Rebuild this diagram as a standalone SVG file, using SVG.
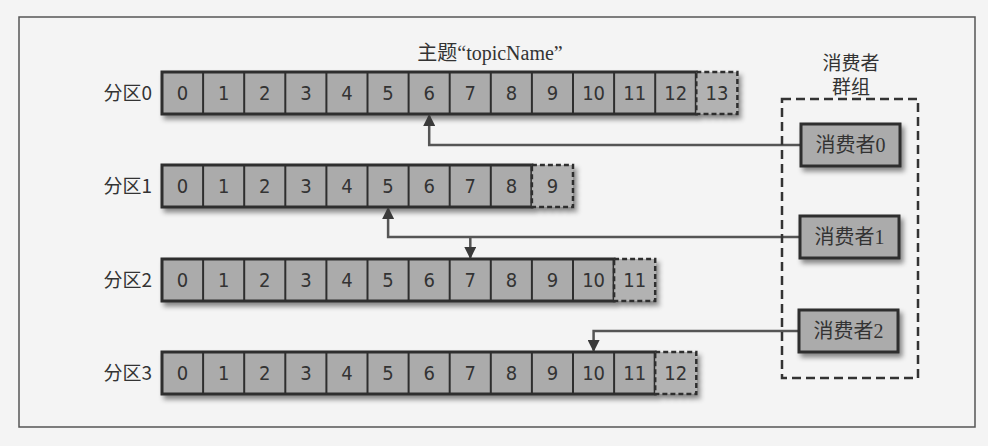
<svg xmlns="http://www.w3.org/2000/svg" width="988" height="446" viewBox="0 0 988 446">
<defs>
<filter id="sh" x="-5%" y="-30%" width="115%" height="180%">
<feDropShadow dx="3" dy="4" stdDeviation="2.5" flood-color="#000" flood-opacity="0.45"/>
</filter>
<marker id="ah" viewBox="0 0 12 12" refX="11" refY="6" markerWidth="12" markerHeight="12" markerUnits="userSpaceOnUse" orient="auto">
<path d="M0,0 L12,6 L0,12 Z" fill="#3a3a3a"/>
</marker>
</defs>
<style>
.bg{fill:#f4f4f4}
.frame{fill:none;stroke:#555;stroke-width:1.5}
.row{fill:#ababab;stroke:#2e2e2e;stroke-width:3}
.div{stroke:#2e2e2e;stroke-width:2}
.last{fill:#b2b2b2;stroke:#2e2e2e;stroke-width:2.5;stroke-dasharray:5 3}
.num{font-family:"Liberation Sans Narrow","DejaVu Sans Condensed","Liberation Sans",sans-serif;font-size:20px;fill:#333;text-anchor:middle}
.plabel{font-family:"Noto Sans CJK SC",sans-serif;font-size:19px;fill:#333;text-anchor:end}
.serif{font-family:"Liberation Serif","Noto Sans CJK SC",serif;fill:#333;text-anchor:middle}
.cbox{fill:#ababab;stroke:#2e2e2e;stroke-width:3}
.group{fill:none;stroke:#333;stroke-width:2.5;stroke-dasharray:9 5}
.conn{fill:none;stroke:#555;stroke-width:2.5}
</style>
<rect class="bg" x="0" y="0" width="988" height="446"/>
<rect class="frame" x="19" y="17" width="956" height="410"/>

<text class="serif" x="490" y="60" font-size="20">主题“topicName”</text>

<g id="partition0">
<text class="plabel" x="152" y="100">分区0</text>
<g filter="url(#sh)">
<rect class="row" x="162" y="72" width="534.3" height="42"/>
<rect class="last" x="696.3" y="72" width="41.1" height="42"/>
</g>
<g class="div">
<line x1="203.1" y1="72" x2="203.1" y2="114"/><line x1="244.2" y1="72" x2="244.2" y2="114"/><line x1="285.3" y1="72" x2="285.3" y2="114"/><line x1="326.4" y1="72" x2="326.4" y2="114"/><line x1="367.5" y1="72" x2="367.5" y2="114"/><line x1="408.6" y1="72" x2="408.6" y2="114"/><line x1="449.7" y1="72" x2="449.7" y2="114"/><line x1="490.8" y1="72" x2="490.8" y2="114"/><line x1="531.9" y1="72" x2="531.9" y2="114"/><line x1="573" y1="72" x2="573" y2="114"/><line x1="614.1" y1="72" x2="614.1" y2="114"/><line x1="655.2" y1="72" x2="655.2" y2="114"/>
</g>
<g class="num">
<text x="182.6" y="100">0</text><text x="223.7" y="100">1</text><text x="264.8" y="100">2</text><text x="305.9" y="100">3</text><text x="347" y="100">4</text><text x="388.1" y="100">5</text><text x="429.2" y="100">6</text><text x="470.3" y="100">7</text><text x="511.4" y="100">8</text><text x="552.5" y="100">9</text><text x="593.6" y="100">10</text><text x="634.7" y="100">11</text><text x="675.8" y="100">12</text><text x="716.9" y="100">13</text>
</g>
</g>

<g id="partition1">
<text class="plabel" x="152" y="193">分区1</text>
<g filter="url(#sh)">
<rect class="row" x="162" y="165" width="369.9" height="42"/>
<rect class="last" x="531.9" y="165" width="41.1" height="42"/>
</g>
<g class="div">
<line x1="203.1" y1="165" x2="203.1" y2="207"/><line x1="244.2" y1="165" x2="244.2" y2="207"/><line x1="285.3" y1="165" x2="285.3" y2="207"/><line x1="326.4" y1="165" x2="326.4" y2="207"/><line x1="367.5" y1="165" x2="367.5" y2="207"/><line x1="408.6" y1="165" x2="408.6" y2="207"/><line x1="449.7" y1="165" x2="449.7" y2="207"/><line x1="490.8" y1="165" x2="490.8" y2="207"/>
</g>
<g class="num">
<text x="182.6" y="193">0</text><text x="223.7" y="193">1</text><text x="264.8" y="193">2</text><text x="305.9" y="193">3</text><text x="347" y="193">4</text><text x="388.1" y="193">5</text><text x="429.2" y="193">6</text><text x="470.3" y="193">7</text><text x="511.4" y="193">8</text><text x="552.5" y="193">9</text>
</g>
</g>

<g id="partition2">
<text class="plabel" x="152" y="287">分区2</text>
<g filter="url(#sh)">
<rect class="row" x="162" y="259" width="452.1" height="42"/>
<rect class="last" x="614.1" y="259" width="41.1" height="42"/>
</g>
<g class="div">
<line x1="203.1" y1="259" x2="203.1" y2="301"/><line x1="244.2" y1="259" x2="244.2" y2="301"/><line x1="285.3" y1="259" x2="285.3" y2="301"/><line x1="326.4" y1="259" x2="326.4" y2="301"/><line x1="367.5" y1="259" x2="367.5" y2="301"/><line x1="408.6" y1="259" x2="408.6" y2="301"/><line x1="449.7" y1="259" x2="449.7" y2="301"/><line x1="490.8" y1="259" x2="490.8" y2="301"/><line x1="531.9" y1="259" x2="531.9" y2="301"/><line x1="573" y1="259" x2="573" y2="301"/>
</g>
<g class="num">
<text x="182.6" y="287">0</text><text x="223.7" y="287">1</text><text x="264.8" y="287">2</text><text x="305.9" y="287">3</text><text x="347" y="287">4</text><text x="388.1" y="287">5</text><text x="429.2" y="287">6</text><text x="470.3" y="287">7</text><text x="511.4" y="287">8</text><text x="552.5" y="287">9</text><text x="593.6" y="287">10</text><text x="634.7" y="287">11</text>
</g>
</g>

<g id="partition3">
<text class="plabel" x="152" y="380">分区3</text>
<g filter="url(#sh)">
<rect class="row" x="162" y="352" width="493.2" height="42"/>
<rect class="last" x="655.2" y="352" width="41.1" height="42"/>
</g>
<g class="div">
<line x1="203.1" y1="352" x2="203.1" y2="394"/><line x1="244.2" y1="352" x2="244.2" y2="394"/><line x1="285.3" y1="352" x2="285.3" y2="394"/><line x1="326.4" y1="352" x2="326.4" y2="394"/><line x1="367.5" y1="352" x2="367.5" y2="394"/><line x1="408.6" y1="352" x2="408.6" y2="394"/><line x1="449.7" y1="352" x2="449.7" y2="394"/><line x1="490.8" y1="352" x2="490.8" y2="394"/><line x1="531.9" y1="352" x2="531.9" y2="394"/><line x1="573" y1="352" x2="573" y2="394"/><line x1="614.1" y1="352" x2="614.1" y2="394"/>
</g>
<g class="num">
<text x="182.6" y="380">0</text><text x="223.7" y="380">1</text><text x="264.8" y="380">2</text><text x="305.9" y="380">3</text><text x="347" y="380">4</text><text x="388.1" y="380">5</text><text x="429.2" y="380">6</text><text x="470.3" y="380">7</text><text x="511.4" y="380">8</text><text x="552.5" y="380">9</text><text x="593.6" y="380">10</text><text x="634.7" y="380">11</text><text x="675.8" y="380">12</text>
</g>
</g>

<g id="connectors">
<path class="conn" d="M800,145 H429.2 V115" marker-end="url(#ah)"/>
<path class="conn" d="M800,237 H388.1 V208" marker-end="url(#ah)"/>
<path class="conn" d="M470.3,237 V258" marker-end="url(#ah)"/>
<path class="conn" d="M800,331 H593.6 V351" marker-end="url(#ah)"/>
</g>

<g id="consumer-group">
<text class="serif" x="851" y="70" font-size="19">消费者</text>
<text class="serif" x="851" y="94" font-size="19">群组</text>
<rect class="group" x="782" y="99" width="136" height="279"/>
</g>

<g id="consumer0">
<rect class="cbox" x="801" y="124" width="99" height="42" filter="url(#sh)"/>
<text class="serif" x="850.5" y="152" font-size="20">消费者0</text>
</g>
<g id="consumer1">
<rect class="cbox" x="800" y="216" width="99" height="42" filter="url(#sh)"/>
<text class="serif" x="849.5" y="244" font-size="20">消费者1</text>
</g>
<g id="consumer2">
<rect class="cbox" x="799" y="310" width="99" height="42" filter="url(#sh)"/>
<text class="serif" x="848.5" y="338" font-size="20">消费者2</text>
</g>
</svg>
